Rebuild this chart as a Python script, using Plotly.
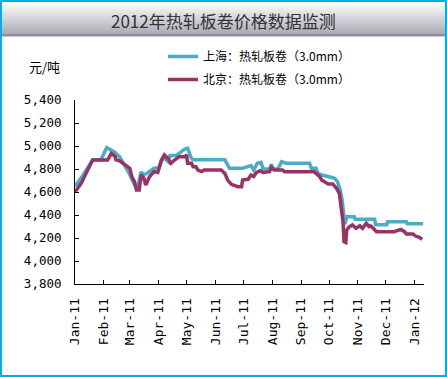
import plotly.graph_objects as go

# ---------------- data ----------------
sh_dates = ["2011-01-01","2011-01-10","2011-01-20","2011-01-29","2011-02-04","2011-02-07","2011-02-12",
            "2011-02-18","2011-02-23","2011-03-01","2011-03-06","2011-03-09","2011-03-13","2011-03-16",
            "2011-03-20","2011-03-24","2011-03-27","2011-04-01","2011-04-04","2011-04-07","2011-04-11",
            "2011-04-13","2011-04-20","2011-04-23","2011-04-29","2011-05-02","2011-05-04","2011-05-06",
            "2011-05-08","2011-06-11","2011-06-16","2011-06-30","2011-07-09","2011-07-12","2011-07-16",
            "2011-07-20","2011-07-22","2011-07-29","2011-07-31","2011-08-02","2011-08-07","2011-08-11",
            "2011-08-16","2011-09-10","2011-09-12","2011-09-17","2011-09-19","2011-09-23","2011-09-30",
            "2011-10-07","2011-10-10","2011-10-13","2011-10-15","2011-10-17","2011-10-18","2011-10-20",
            "2011-10-28","2011-10-29","2011-11-19","2011-11-20","2011-12-02","2011-12-03","2011-12-23",
            "2011-12-24","2012-01-10"]
sh_values = [4650,4750,4880,4880,4985,4970,4950,
             4905,4835,4750,4660,4630,4775,4750,
             4765,4790,4806,4810,4878,4893,4864,
             4916,4920,4936,4974,4980,4940,4893,
             4880,4880,4806,4806,4830,4791,4850,
             4858,4800,4800,4841,4800,4800,4864,
             4850,4850,4806,4806,4762,4748,4735,
             4720,4690,4617,4530,4385,4320,4385,
             4385,4362,4362,4315,4315,4342,4342,
             4325,4325]

bj_dates = ["2011-01-01","2011-01-08","2011-01-14","2011-01-20","2011-02-05","2011-02-09","2011-02-13",
            "2011-02-14","2011-02-18","2011-02-21","2011-02-25","2011-03-01","2011-03-03","2011-03-06",
            "2011-03-08","2011-03-11","2011-03-13","2011-03-16","2011-03-18","2011-03-22","2011-03-27",
            "2011-03-31","2011-04-04","2011-04-07","2011-04-11","2011-04-14","2011-04-18","2011-04-23",
            "2011-04-29","2011-05-01","2011-05-02","2011-05-06","2011-05-08","2011-05-11","2011-05-13",
            "2011-05-17","2011-05-20","2011-06-07","2011-06-11","2011-06-14","2011-06-18","2011-06-25",
            "2011-06-29","2011-06-30","2011-07-06","2011-07-09","2011-07-12","2011-07-15","2011-07-19",
            "2011-07-22","2011-07-29","2011-07-31","2011-08-03","2011-08-12","2011-08-14","2011-09-15",
            "2011-09-17","2011-09-21","2011-09-23","2011-09-26","2011-09-30","2011-10-05","2011-10-09",
            "2011-10-12","2011-10-14","2011-10-16","2011-10-17","2011-10-19","2011-10-20","2011-10-23",
            "2011-10-26","2011-10-30","2011-11-03","2011-11-06","2011-11-10","2011-11-13","2011-11-15",
            "2011-11-19","2011-11-21","2011-12-10","2011-12-14","2011-12-17","2011-12-21","2011-12-23",
            "2011-12-30","2012-01-02","2012-01-06","2012-01-09"]
bj_values = [4600,4680,4780,4878,4878,4936,4910,
             4880,4870,4852,4820,4805,4733,4690,
             4617,4617,4748,4720,4660,4733,4777,
             4770,4878,4922,4890,4850,4878,4907,
             4907,4922,4850,4850,4820,4820,4791,
             4777,4791,4791,4762,4704,4667,4646,
             4646,4704,4710,4748,4735,4770,4785,
             4770,4777,4815,4791,4791,4777,4777,
             4762,4733,4704,4690,4670,4670,4632,
             4588,4472,4342,4168,4160,4270,4299,
             4313,4284,4307,4284,4328,4299,4305,
             4270,4255,4255,4270,4275,4255,4235,
             4235,4217,4206,4188]

series_names = ["上海：热轧板卷（3.0mm）", "北京：热轧板卷（3.0mm）"]
tick_dates = ["2011-01-01","2011-02-01","2011-03-01","2011-04-01","2011-05-01","2011-06-01",
              "2011-07-01","2011-08-01","2011-09-01","2011-10-01","2011-11-01","2011-12-01","2012-01-01"]
tick_labels = ["Jan-11","Feb-11","Mar-11","Apr-11","May-11","Jun-11","Jul-11",
               "Aug-11","Sep-11","Oct-11","Nov-11","Dec-11","Jan-12"]
title_text = "2012年热轧板卷价格数据监测"
unit_text = "元/吨"

# ---------------- layout geometry ----------------
W, H = 447, 377
L, R, T, B = 75, 424, 100, 284
PW, PH = R - L, B - T

def px(x):
    return (x - L) / PW

def py(y):
    return (B - y) / PH

fig = go.Figure()
fig.add_trace(go.Scatter(x=sh_dates, y=sh_values, mode="lines", name=series_names[0],
                         legendgroup="a", line=dict(color="#4BACC6", width=3.5)))
fig.add_trace(go.Scatter(x=bj_dates, y=bj_values, mode="lines", name=series_names[1],
                         legendgroup="b", line=dict(color="#993366", width=3.5)))

shapes = []
# title gradient band
top_c = (252, 252, 252)
bot_c = (172, 172, 182)
y0, y1 = 3, 34
n = y1 - y0
for i in range(n):
    t = i / (n - 1)
    c = tuple(int(round(top_c[k] + (bot_c[k] - top_c[k]) * t)) for k in range(3))
    shapes.append(dict(type="rect", xref="paper", yref="paper",
                       x0=px(2), x1=px(445), y0=py(y0 + i), y1=py(y0 + i + 1),
                       fillcolor="rgb(%d,%d,%d)" % c, line=dict(width=0), layer="below"))
shapes.append(dict(type="rect", xref="paper", yref="paper",
                   x0=px(2), x1=px(445), y0=py(34), y1=py(36.5),
                   fillcolor="#8E8E98", line=dict(width=0), layer="below"))
# outer blue border
shapes.append(dict(type="rect", xref="paper", yref="paper",
                   x0=px(1), x1=px(446), y0=py(1), y1=py(376),
                   line=dict(color="#00AEEF", width=2), fillcolor="rgba(0,0,0,0)", layer="above"))

annotations = [
    dict(text=title_text, xref="paper", yref="paper", x=px(223), y=py(20),
         xanchor="center", yanchor="middle", showarrow=False,
         font=dict(family="Noto Sans CJK SC", size=17, color="#333333")),
    dict(text=unit_text, xref="paper", yref="paper", x=px(27), y=py(66),
         xanchor="left", yanchor="middle", showarrow=False,
         font=dict(family="Noto Sans CJK SC", size=13, color="#000000")),
]

fig.update_layout(
    width=W, height=H,
    margin=dict(l=L, r=W - R, t=T, b=H - B, pad=0),
    paper_bgcolor="white", plot_bgcolor="white",
    showlegend=True,
    legend=dict(x=px(163), y=py(42), xanchor="left", yanchor="top",
                bgcolor="rgba(0,0,0,0)", borderwidth=0, tracegroupgap=4,
                traceorder="grouped",
                font=dict(family="Noto Sans CJK SC", size=12, color="#000000")),
    shapes=shapes, annotations=annotations,
    xaxis=dict(type="date", range=["2011-01-01", "2012-01-11"],
               tickmode="array", tickvals=tick_dates, ticktext=tick_labels,
               tickangle=-90, ticks="inside", ticklen=4, tickcolor="black",
               ticklabelstandoff=8,
               showline=True, linecolor="black", linewidth=1, showgrid=False, zeroline=False,
               tickfont=dict(family="DejaVu Sans Mono", size=13, color="#000000")),
    yaxis=dict(range=[3800, 5400], dtick=200, tick0=3800, tickformat=",",
               ticks="inside", ticklen=4, tickcolor="black",
               ticklabelstandoff=10,
               showline=True, linecolor="black", linewidth=1, showgrid=False, zeroline=False,
               tickfont=dict(family="DejaVu Sans Mono", size=12.5, color="#000000")),
)

fig.write_html("out.html", config={"displayModeBar": False},
               post_script="document.body.style.margin='0';document.body.style.overflow='hidden';")
